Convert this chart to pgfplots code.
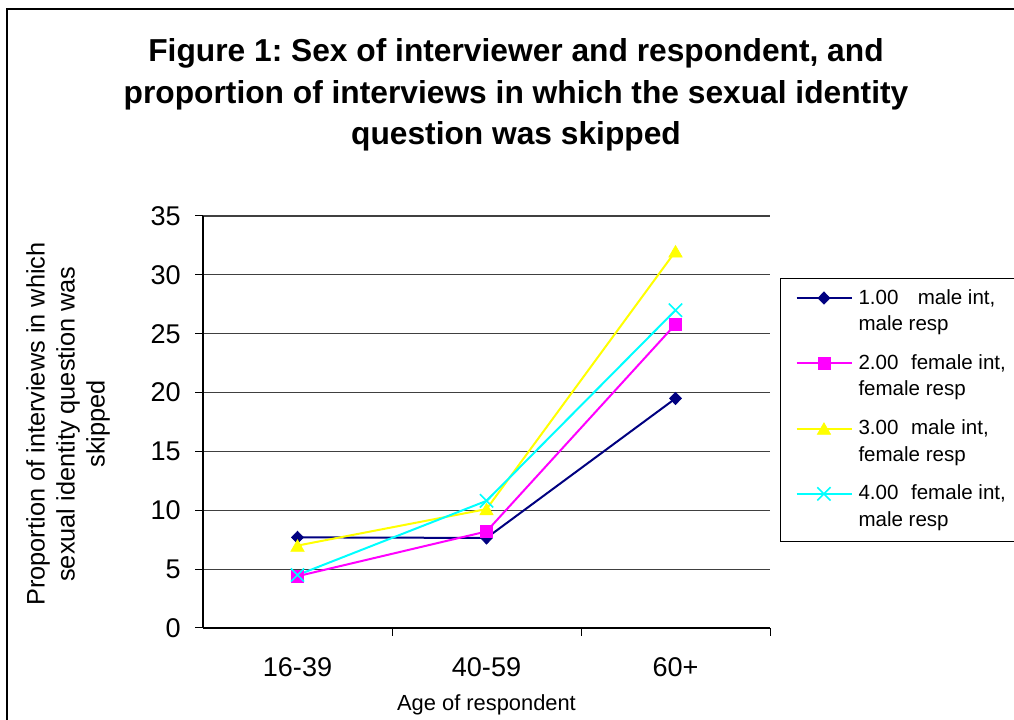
\documentclass[border=0pt]{standalone}
\usepackage{pgfplots}
\pgfplotsset{compat=1.18}
\usepackage{fontspec}
\setmainfont{Liberation Sans}
\frenchspacing
\definecolor{snavy}{HTML}{000080}
\definecolor{smag}{HTML}{FF00FF}
\definecolor{syel}{HTML}{FFFF00}
\definecolor{scyan}{HTML}{00FFFF}
\newcommand{\ent}[2]{\vtop{\baselineskip=20pt\hbox to 120pt{\rule{0pt}{11pt}#1\hfil}\hbox to 120pt{#2\rule[-3.3pt]{0pt}{3.3pt}\hfil}}}
\begin{document}
\begin{tikzpicture}
\useasboundingbox (0,0) rectangle (760.5pt,540pt);
\fill[white] (0,0) rectangle (760.5pt,540pt);
\draw[line width=1.1pt] (5.25pt,-5pt) -- (5.25pt,533.25pt) -- (770pt,533.25pt);
\begin{axis}[
  at={(152.25pt,69pt)}, anchor=south west,
  scale only axis, width=425.25pt, height=309pt,
  xmin=-0.5, xmax=2.5, ymin=0, ymax=35,
  axis lines=left, axis line style={-, line width=0.8pt, black},
  xtick={0,1,2}, xticklabels={16-39,40-59,60+},
  major x tick style={draw=none},
  minor xtick={0.5,1.5,2.5},
  ytick={0,5,...,35},
  tick align=outside, major tick length=6pt, minor tick length=6pt,
  tick style={black, line width=0.75pt},
  ymajorgrids, grid style={line width=0.8pt, color=black!75},
  /pgf/number format/assume math mode=true,
  ticklabel style={font=\fontsize{20.3}{24}\selectfont, inner sep=0pt},
  yticklabel style={anchor=east, xshift=-10.5pt},
  xticklabel style={anchor=north, yshift=-15.75pt},
  xlabel={Age of respondent},
  xlabel style={at={(axis description cs:0.5,0)}, anchor=base, yshift=-62.25pt, font=\fontsize{16.4}{20}\selectfont, inner sep=0pt},
  legend style={at={(axis description cs:1.01764,0.8495)}, anchor=north west,
    draw=black, line width=0.75pt, inner xsep=11.25pt, inner ysep=8pt,
    font=\fontsize{15.4}{20}\selectfont, row sep=14.5pt, column sep=4.5pt,
    nodes={inner sep=0pt, text depth=}, cells={anchor=base west}},
  legend image code/.code={\draw[mark repeat=2,mark phase=2,#1] plot coordinates {(0pt,4.5pt) (20.6pt,4.5pt) (41.25pt,4.5pt)};},
  every axis plot/.append style={line width=1.5pt},
]
\addplot[color=snavy, mark=diamond*, mark size=4.6pt, mark options={solid, line width=0.5pt, xscale=1.3}] coordinates {(0,7.7) (1,7.65) (2,19.5)};
\addplot[color=smag, mark=square*, mark size=4.4pt, mark options={solid, line width=0.5pt}] coordinates {(0,4.4) (1,8.2) (2,25.8)};
\addplot[color=syel, mark=triangle*, mark size=5.8pt, mark options={solid, line width=0.5pt, yshift=-1.45pt}] coordinates {(0,7.0) (1,10.1) (2,32.0)};
\addplot[color=scyan, mark=x, mark size=7pt, mark options={solid, line width=1.2pt}] coordinates {(0,4.5) (1,10.8) (2,27.0)};
\legend{\ent{1.00\hspace{14.5pt}male int,}{male resp},
        \ent{2.00\hspace{9.5pt}female int,}{female resp},
        \ent{3.00\hspace{9.5pt}male int,}{female resp},
        \ent{4.00\hspace{9.5pt}female int,}{male resp}}
\end{axis}
\begin{scope}[font=\fontsize{23.8}{30}\selectfont\bfseries]
\node[anchor=base, inner sep=0pt] at (387pt,493.5pt) {Figure 1: Sex of interviewer and respondent, and};
\node[anchor=base, inner sep=0pt] at (387pt,462.4pt) {proportion of interviews in which the sexual identity};
\node[anchor=base, inner sep=0pt] at (387pt,431.25pt) {question was skipped};
\end{scope}
\begin{scope}[font=\fontsize{19}{24}\selectfont]
\node[anchor=base, rotate=90, inner sep=0pt] at (33.5pt,222pt) {Proportion of interviews in which};
\node[anchor=base, rotate=90, inner sep=0pt] at (56pt,222pt) {sexual identity question was};
\node[anchor=base, rotate=90, inner sep=0pt] at (78.5pt,222pt) {skipped};
\end{scope}
\end{tikzpicture}
\end{document}
